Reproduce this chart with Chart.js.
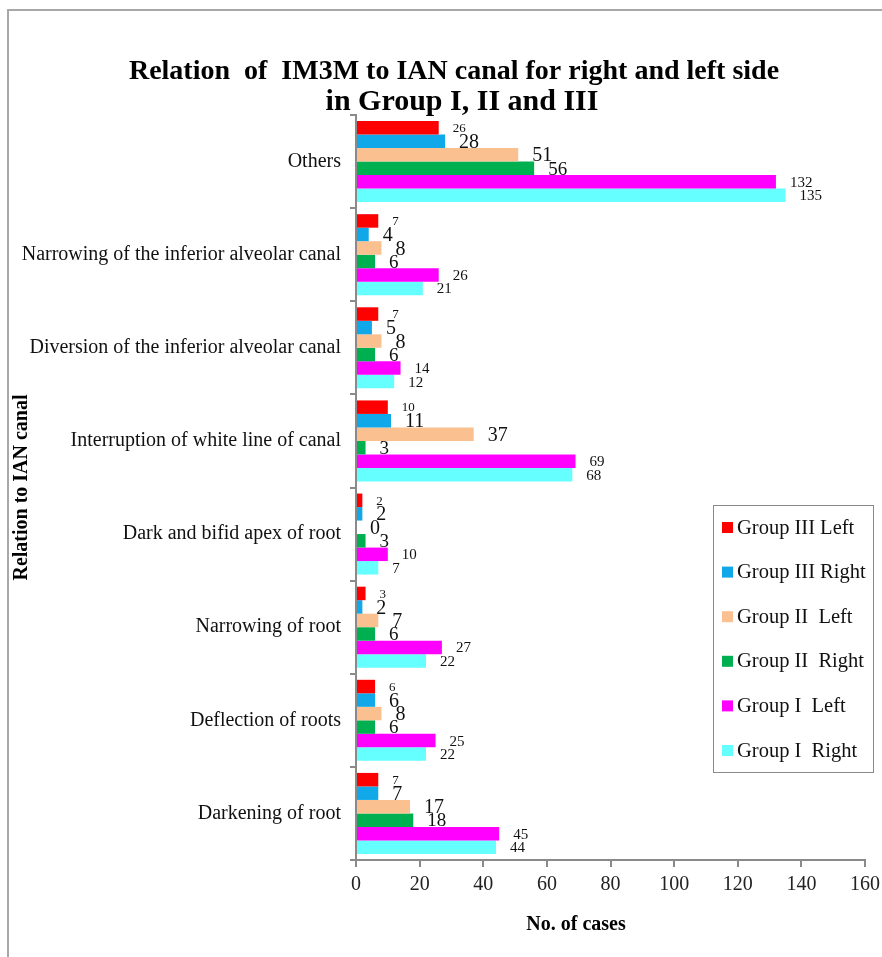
<!DOCTYPE html>
<html><head><meta charset="utf-8">
<script src="https://cdn.jsdelivr.net/npm/chart.js@4.4.0/dist/chart.umd.min.js"></script>
<style>
html,body{margin:0;padding:0;background:#fff;overflow:hidden;}
#wrap{position:relative;width:882px;height:957px;overflow:hidden;}
#frame{position:absolute;left:7px;top:9px;width:900px;height:1000px;border:2px solid #a8a8a8;box-sizing:border-box;}
canvas{position:absolute;left:0;top:0;}
</style></head><body>
<div id="wrap"><div id="frame"></div><canvas id="c" width="882" height="957"></canvas></div>
<script>
const categories = ["Others","Narrowing of the inferior alveolar canal","Diversion of the inferior alveolar canal","Interruption of white line of canal","Dark and bifid apex of root","Narrowing of root","Deflection of roots","Darkening of root"];
const seriesNames = ["Group III Left","Group III Right","Group II  Left","Group II  Right","Group I  Left","Group I  Right"];
const g3Left  = [26, 7, 7, 10, 2, 3, 6, 7];
const g3Right = [28, 4, 5, 11, 2, 2, 6, 7];
const g2Left  = [51, 8, 8, 37, 0, 7, 8, 17];
const g2Right = [56, 6, 6, 3, 3, 6, 6, 18];
const g1Left  = [132, 26, 14, 69, 10, 27, 25, 45];
const g1Right = [135, 21, 12, 68, 7, 22, 22, 44];
const xTicks = [0, 20, 40, 60, 80, 100, 120, 140, 160];
const titleLines = ["Relation  of  IM3M to IAN canal for right and left side", "in Group I, II and III"];
const xTitle = "No. of cases";
const yTitle = "Relation to IAN canal";

const colors = ["#ff0000", "#10a8e8", "#fac090", "#00b050", "#ff00ff", "#66ffff"];
const labelSizes = [13, 20, 20, 19, 15, 15];
const seriesData = [g3Left, g3Right, g2Left, g2Right, g1Left, g1Right];
const SERIF = '"Liberation Serif", "Times New Roman", serif';

const decor = {
  id: 'decor',
  afterDatasetsDraw(chart) {
    const ctx = chart.ctx;
    ctx.save();
    ctx.fillStyle = '#111';
    ctx.textAlign = 'left';
    ctx.textBaseline = 'alphabetic';
    chart.data.datasets.forEach((ds, di) => {
      const meta = chart.getDatasetMeta(di);
      const fs = labelSizes[di];
      ctx.font = fs + 'px ' + SERIF;
      meta.data.forEach((bar, i) => {
        ctx.fillText(String(ds.data[i]), bar.x + 14, bar.y + fs * 0.33);
      });
    });
    ctx.restore();
  },
  afterDraw(chart) {
    const ctx = chart.ctx;
    ctx.save();
    // title
    ctx.fillStyle = '#000';
    ctx.textAlign = 'center';
    ctx.textBaseline = 'alphabetic';
    ctx.font = 'bold 28px ' + SERIF;
    ctx.fillText(titleLines[0], 454, 79);
    ctx.font = 'bold 30px ' + SERIF;
    ctx.fillText(titleLines[1], 462, 110);
    // x title
    ctx.font = 'bold 20px ' + SERIF;
    ctx.fillText(xTitle, 576, 930);
    // legend
    const lx = 713, ly = 505, lw = 160, lh = 267;
    ctx.fillStyle = '#fff';
    ctx.fillRect(lx, ly, lw, lh);
    ctx.strokeStyle = '#8a8a8a';
    ctx.lineWidth = 1;
    ctx.strokeRect(lx + 0.5, ly + 0.5, lw, lh);
    ctx.textAlign = 'left';
    ctx.font = '20.5px ' + SERIF;
    chart.data.datasets.forEach((ds, i) => {
      const cy = 527 + i * 44.6;
      ctx.fillStyle = ds.backgroundColor;
      ctx.fillRect(722, cy - 5, 11, 11);
      ctx.fillStyle = '#111';
      ctx.fillText(ds.label, 737, cy + 6.5);
    });
    ctx.restore();
  }
};

new Chart(document.getElementById('c'), {
  type: 'bar',
  data: {
    labels: categories,
    datasets: seriesData.map((d, i) => ({
      label: seriesNames[i],
      data: d,
      backgroundColor: colors[i],
      borderWidth: 0,
      barPercentage: 1.0,
      categoryPercentage: 0.87
    }))
  },
  options: {
    indexAxis: 'y',
    responsive: false,
    animation: false,
    devicePixelRatio: 1,
    layout: { padding: { left: 10, right: 17, top: 115, bottom: 0 } },
    plugins: { legend: { display: false }, title: { display: false }, tooltip: { enabled: false } },
    scales: {
      x: {
        type: 'linear', min: 0, max: 160,
        afterBuildTicks: s => { s.ticks = xTicks.map(v => ({ value: v })); },
        afterFit: s => { s.height = 97; s.paddingLeft = 0; s.paddingRight = 0; },
        ticks: { font: { size: 20, family: SERIF }, color: '#222', padding: 6 },
        grid: { drawOnChartArea: false, tickLength: 7, color: '#8a8a8a', lineWidth: 2 },
        border: { color: '#8a8a8a', width: 2 }
      },
      y: {
        afterFit: s => { s.width = 346; s.paddingTop = 0; s.paddingBottom = 0; },
        ticks: { font: { size: 20, family: SERIF }, color: '#111', padding: 9 },
        grid: { drawOnChartArea: false, tickLength: 6, color: '#8a8a8a', lineWidth: 2, offset: true },
        border: { color: '#8a8a8a', width: 2 },
        title: { display: true, text: yTitle, font: { size: 20, weight: 'bold', family: SERIF }, color: '#000', padding: { top: 0, bottom: 0 } }
      }
    }
  },
  plugins: [decor]
});
</script>
</body></html>
